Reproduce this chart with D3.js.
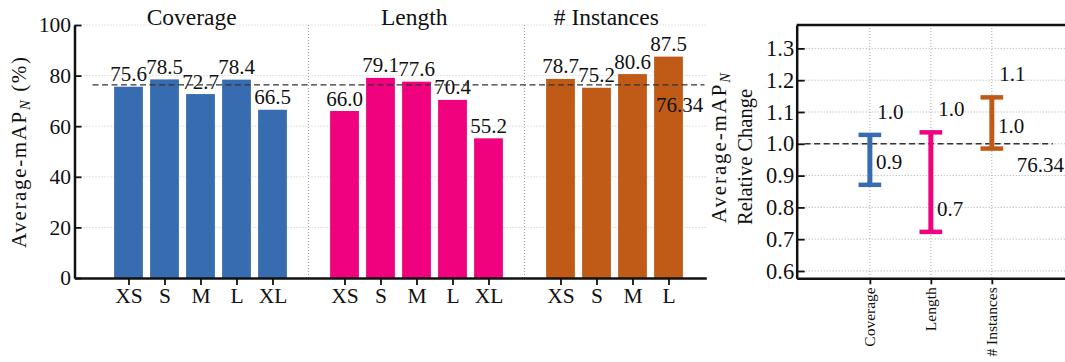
<!DOCTYPE html>
<html>
<head>
<meta charset="utf-8">
<script src="https://cdn.jsdelivr.net/npm/d3@7/dist/d3.min.js"></script>
<style>
  html, body { margin: 0; padding: 0; background: #fff; }
</style>
</head>
<body>
<svg id="chart" width="1065" height="362"></svg>
<script>
// ---------- data ----------
const groups = ["Coverage", "Length", "# Instances"];
const groupColors = ["#386cb0", "#f0027f", "#bf5b17"];
const coverageCats = ["XS", "S", "M", "L", "XL"];
const coverageVals = [75.6, 78.5, 72.7, 78.4, 66.5];
const lengthCats = ["XS", "S", "M", "L", "XL"];
const lengthVals = [66.0, 79.1, 77.6, 70.4, 55.2];
const instanceCats = ["XS", "S", "M", "L"];
const instanceVals = [78.7, 75.2, 80.6, 87.5];
const meanValue = 76.34;
const yTicksLeft = [0, 20, 40, 60, 80, 100];
// relative change (min / max of each group relative to the mean)
const relMin = [0.871, 0.723, 0.985];
const relMax = [1.028, 1.036, 1.146];
const yTicksRight = [0.6, 0.7, 0.8, 0.9, 1.0, 1.1, 1.2, 1.3];

const FONT = "Liberation Serif";
const svg = d3.select("#chart").attr("font-family", FONT);

// ---------- left chart ----------
const groupSeries = [
  { name: groups[0], cats: coverageCats, vals: coverageVals, start: 0, color: groupColors[0] },
  { name: groups[1], cats: lengthCats, vals: lengthVals, start: 6, color: groupColors[1] },
  { name: groups[2], cats: instanceCats, vals: instanceVals, start: 12, color: groupColors[2] }
];
const bars = [];
groupSeries.forEach(g => g.vals.forEach((v, i) => bars.push({ pos: g.start + i, cat: g.cats[i], val: v, color: g.color })));

const xL = d3.scaleLinear().domain([-1.5, 16.05]).range([74.5, 706.3]);
const yL = d3.scaleLinear().domain([0, 100]).range([278, 25]);
const L = svg.append("g");

// horizontal grid
L.append("g").selectAll("line").data(yTicksLeft.filter(d => d > 0)).join("line")
  .attr("x1", xL(-1.5)).attr("x2", xL(16.05))
  .attr("y1", d => yL(d)).attr("y2", d => yL(d))
  .attr("stroke", "#c8c8c8").attr("stroke-width", 1).attr("stroke-dasharray", "1,2");
// group separators
L.append("g").selectAll("line").data([5, 11]).join("line")
  .attr("x1", d => xL(d)).attr("x2", d => xL(d))
  .attr("y1", yL(100)).attr("y2", yL(0))
  .attr("stroke", "#999").attr("stroke-width", 1).attr("stroke-dasharray", "1,2");

// bars
L.append("g").selectAll("rect").data(bars).join("rect")
  .attr("x", d => xL(d.pos - 0.4)).attr("width", xL(0.4) - xL(-0.4))
  .attr("y", d => yL(d.val)).attr("height", d => yL(0) - yL(d.val))
  .attr("fill", d => d.color);

// value labels
L.append("g").selectAll("text").data(bars).join("text")
  .attr("x", d => xL(d.pos)).attr("y", d => yL(d.val) - 5.5)
  .attr("text-anchor", "middle").attr("font-size", 21).attr("fill", "#111")
  .text(d => d.val.toFixed(1));

// mean dashed line
L.append("line")
  .attr("x1", xL(-1)).attr("x2", xL(16))
  .attr("y1", yL(meanValue)).attr("y2", yL(meanValue))
  .attr("stroke", "#333").attr("stroke-width", 1.4).attr("stroke-dasharray", "6,3.5");
L.append("text").attr("x", xL(14.65)).attr("y", yL(65.7))
  .attr("font-size", 21).attr("fill", "#111").text(meanValue.toFixed(2));

// group titles
const titleX = [191.7, 414.2, 606.3];
L.append("g").selectAll("text").data(groups).join("text")
  .attr("x", (d, i) => titleX[i]).attr("y", 24.5)
  .attr("text-anchor", "middle").attr("font-size", 23.5).attr("fill", "#111")
  .text(d => d);

// axes
const axL = L.append("g").attr("transform", `translate(${xL(-1.5)},0)`)
  .call(d3.axisLeft(yL).tickValues(yTicksLeft).tickSizeInner(-7).tickSizeOuter(0).tickPadding(3.5));
const axB = L.append("g").attr("transform", `translate(0,${yL(0)})`)
  .call(d3.axisBottom(xL).tickValues(bars.map(d => d.pos))
    .tickFormat(p => bars.find(b => b.pos === p).cat).tickSizeInner(7).tickSizeOuter(0).tickPadding(2.5));
[axL, axB].forEach(a => {
  a.attr("font-family", FONT);
  a.select(".domain").attr("stroke", "#111").attr("stroke-width", 2.5);
  a.selectAll(".tick line").attr("stroke", "#111").attr("stroke-width", 1.8);
  a.selectAll(".tick text").attr("font-size", 21.5).attr("fill", "#111");
});

// y label left
const ylab = L.append("text").attr("transform", "translate(25.5,248) rotate(-90)")
  .attr("text-anchor", "start").attr("font-size", 21).attr("fill", "#111")
  .attr("textLength", 191).attr("lengthAdjust", "spacing");
ylab.append("tspan").text("Average-mAP");
ylab.append("tspan").attr("font-size", 14.5).attr("font-style", "italic").attr("dy", 4).text("N");
ylab.append("tspan").attr("dy", -4).text(" (%)");

// ---------- right chart ----------
const xR = d3.scaleLinear().domain([-1.2, 3.2]).range([796.7, 1065]);
const yR = d3.scaleLinear().domain([0.577, 1.3736]).range([278.3, 25]);
const R = svg.append("g");

// grid
R.append("g").selectAll("line").data(yTicksRight).join("line")
  .attr("x1", xR(-1.2)).attr("x2", 1065)
  .attr("y1", d => yR(d)).attr("y2", d => yR(d))
  .attr("stroke", "#aaa").attr("stroke-width", 1).attr("stroke-dasharray", "1,2");
R.append("g").selectAll("line").data(groups).join("line")
  .attr("x1", (d, i) => xR(i)).attr("x2", (d, i) => xR(i))
  .attr("y1", yR.range()[1]).attr("y2", yR.range()[0])
  .attr("stroke", "#aaa").attr("stroke-width", 1).attr("stroke-dasharray", "1,2");

// reference dashed line at 1.0
R.append("line").attr("x1", xR(-1.07)).attr("x2", xR(3))
  .attr("y1", yR(1)).attr("y2", yR(1))
  .attr("stroke", "#333").attr("stroke-width", 1.4).attr("stroke-dasharray", "6,3.5");

// error bars
const eb = R.append("g").selectAll("g").data(groups).join("g");
eb.append("line").attr("x1", (d, i) => xR(i)).attr("x2", (d, i) => xR(i))
  .attr("y1", (d, i) => yR(relMin[i])).attr("y2", (d, i) => yR(relMax[i]))
  .attr("stroke", (d, i) => groupColors[i]).attr("stroke-width", 5);
eb.append("line").attr("x1", (d, i) => xR(i - 0.186)).attr("x2", (d, i) => xR(i + 0.186))
  .attr("y1", (d, i) => yR(relMin[i])).attr("y2", (d, i) => yR(relMin[i]))
  .attr("stroke", (d, i) => groupColors[i]).attr("stroke-width", 4.5);
eb.append("line").attr("x1", (d, i) => xR(i - 0.186)).attr("x2", (d, i) => xR(i + 0.186))
  .attr("y1", (d, i) => yR(relMax[i])).attr("y2", (d, i) => yR(relMax[i]))
  .attr("stroke", (d, i) => groupColors[i]).attr("stroke-width", 4.5);
eb.append("text").attr("x", (d, i) => xR(i + 0.12)).attr("y", (d, i) => yR(relMax[i] + 0.05))
  .attr("font-size", 21).attr("fill", "#111").text((d, i) => relMax[i].toFixed(1));
eb.append("text").attr("x", (d, i) => xR(i + 0.1)).attr("y", (d, i) => yR(relMin[i] + 0.05))
  .attr("font-size", 21).attr("fill", "#111").text((d, i) => relMin[i].toFixed(1));

R.append("text").attr("x", xR(2.41)).attr("y", yR(0.91))
  .attr("font-size", 21).attr("fill", "#111").text(meanValue.toFixed(2));

// axes
const axRL = R.append("g").attr("transform", `translate(${xR(-1.2)},0)`)
  .call(d3.axisLeft(yR).tickValues(yTicksRight).tickFormat(d3.format(".1f"))
    .tickSizeInner(-8).tickSizeOuter(0).tickPadding(2.5));
const axRB = R.append("g").attr("transform", `translate(0,${yR.range()[0]})`)
  .call(d3.axisBottom(xR).tickValues([0, 1, 2]).tickFormat(i => groups[i])
    .tickSizeInner(6).tickSizeOuter(0).tickPadding(3));
axRB.selectAll(".tick text")
  .attr("transform", "rotate(-90)").attr("text-anchor", "end")
  .attr("x", -9).attr("y", 0).attr("dy", "0.32em");
[axRL, axRB].forEach(a => {
  a.attr("font-family", FONT);
  a.select(".domain").attr("stroke", "#111").attr("stroke-width", 2.5);
  a.selectAll(".tick line").attr("stroke", "#111").attr("stroke-width", 1.8);
  a.selectAll(".tick text").attr("fill", "#111");
});
axRL.selectAll(".tick text").attr("font-size", 22.5);
axRB.selectAll(".tick text").attr("font-size", 15.5);
// top spine
R.append("line").attr("x1", xR(-1.2)).attr("x2", 1065)
  .attr("y1", yR.range()[1]).attr("y2", yR.range()[1])
  .attr("stroke", "#111").attr("stroke-width", 2.5);

// y label right (two lines)
const yl2 = R.append("text").attr("transform", "translate(725.5,223) rotate(-90)")
  .attr("text-anchor", "start").attr("font-size", 21).attr("fill", "#111")
  .attr("textLength", 150).attr("lengthAdjust", "spacing");
yl2.append("tspan").text("Average-mAP");
yl2.append("tspan").attr("font-size", 14.5).attr("font-style", "italic").attr("dy", 4).text("N");
R.append("text").attr("transform", "translate(751.5,225) rotate(-90)")
  .attr("text-anchor", "start").attr("font-size", 20.5).attr("fill", "#111")
  .text("Relative Change");
</script>
</body>
</html>
